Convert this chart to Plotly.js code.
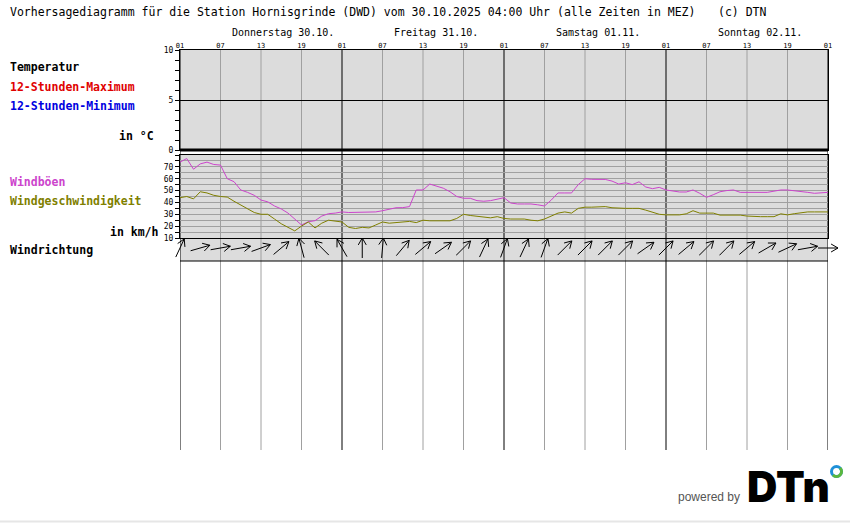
<!DOCTYPE html>
<html><head><meta charset="utf-8">
<script src="https://cdn.plot.ly/plotly-3.0.1.min.js"></script>
<style>html,body{margin:0;padding:0;background:#fff}#chart{width:850px;height:524px}</style>
</head><body><div id="chart"></div>
<script>
// ---------- data ----------
const titleText = 'Vorhersagediagramm für die Station Hornisgrinde (DWD) vom 30.10.2025 04:00 Uhr (alle Zeiten in MEZ)';
const copyrightText = '(c) DTN';
const dayLabels = ['Donnerstag 30.10.', 'Freitag 31.10.', 'Samstag 01.11.', 'Sonntag 02.11.'];
const hourTickLabels = ['01', '07', '13', '19'];
const tempTickVals = [0, 5, 10];
const windTickVals = [10, 20, 30, 40, 50, 60, 70];
// hourly values, starting Thu 30.10. 01:00
const windGust = [
  74, 77, 68, 72.5, 74, 72, 71.5, 60, 57.5, 50.5,
  48.5, 46, 42, 40.5, 37, 34.5, 31, 26, 21, 23.7,
  24.6, 28.5, 30.5, 31, 32, 31.5, 31.5, 31.5, 31.5, 32,
  33, 34.3, 35.5, 35.6, 36.5, 50.5, 50.5, 55.5, 54, 52,
  49, 45, 43.5, 43.5, 41.5, 41, 41.5, 43, 44, 39.5,
  38.7, 38.7, 38.7, 38, 37, 42, 48, 48, 48, 55,
  60, 59.5, 59.4, 59.4, 58, 55.5, 56.6, 55, 57.4, 53,
  51.6, 52.7, 50.5, 49.5, 48.8, 48.8, 50.5, 47.7, 44.3, 46.5,
  49, 50, 50.5, 48.5, 48.5, 48.5, 48.5, 48.5, 49.5, 50.5,
  50.5, 50, 49, 48.5, 47.7, 48, 48.5
];
const windSpeed = [
  44, 45, 43, 49, 48, 46, 45, 44.5, 41, 38,
  35, 31.5, 30, 30, 26, 22, 19, 16, 20, 23.5,
  18.5, 22.5, 25, 24.5, 23.5, 19, 18, 19, 18.5, 21,
  23.5, 22.5, 23, 23, 24, 23, 25, 24.5, 24.5, 24.5,
  24.5, 26.5, 30, 29, 28.5, 28, 27, 28, 26.5, 26,
  26, 26, 25, 24.5, 26, 28.5, 31, 32, 31, 35,
  36, 36, 36.5, 36.5, 35.5, 35, 35, 35, 35, 33.5,
  32, 30, 29.5, 29.3, 29.5, 30.4, 33, 31, 31, 31,
  29.3, 29.3, 29.3, 29.3, 28.5, 28, 28, 28, 28, 30.4,
  29.5, 30.5, 31.4, 32, 32, 32, 32
];
// wind direction (degrees, where the wind comes from), every 3 hours from 30.10. 01:00
const windDirFrom = [
  205, 254, 260, 260, 250, 230, 165, 135, 150, 180, 185,
  220, 230, 235, 225, 205, 200, 205, 200, 225, 225,
  225, 225, 235, 225, 230, 225, 225, 230, 240, 245,
  260, 270
];
const windDirStepHours = 3;

// ---------- geometry ----------
const W = 850, H = 524;
const X0 = 180, X1 = 828;
const HOURS = 96;
const pxPerHour = (X1 - X0) / HOURS;
const pxX = x => x / W;
const pxY = y => (H - y) / H;
const xDomain = [pxX(X0), pxX(X1)];
const MONO = 'DejaVu Sans Mono';

const hours = windGust.map((_, i) => i);
const gridHours = [];
const gridText = [];
for (let h = 0; h <= HOURS; h += 6) { gridHours.push(h); gridText.push(hourTickLabels[(h / 6) % 4]); }

// arrows
const ax = [], ay = [];
const arrowLen = 20, headLen = 8, headAng = 30 * Math.PI / 180, arrowCy = 13;
windDirFrom.forEach((d, k) => {
  const h = k * windDirStepHours;
  const to = (d + 180) * Math.PI / 180;
  const ux = Math.sin(to), uy = Math.cos(to);
  const tipX = h + ux * arrowLen / 2 / pxPerHour, tipY = arrowCy + uy * arrowLen / 2;
  const tailX = h - ux * arrowLen / 2 / pxPerHour, tailY = arrowCy - uy * arrowLen / 2;
  ax.push(tailX, tipX, null); ay.push(tailY, tipY, null);
  const back = to + Math.PI;
  const l = back - headAng, r = back + headAng;
  ax.push(tipX + Math.sin(l) * headLen / pxPerHour, tipX, tipX + Math.sin(r) * headLen / pxPerHour, null);
  ay.push(tipY + Math.cos(l) * headLen, tipY, tipY + Math.cos(r) * headLen, null);
});

const traces = [
  {x: [], y: [], xaxis: 'x', yaxis: 'y', mode: 'lines', hoverinfo: 'skip'},
  {x: hours, y: windGust, xaxis: 'x2', yaxis: 'y2', mode: 'lines', line: {color: '#cc44cc', width: 1}, hoverinfo: 'skip'},
  {x: hours, y: windSpeed, xaxis: 'x2', yaxis: 'y2', mode: 'lines', line: {color: '#808000', width: 1}, hoverinfo: 'skip'},
  {x: ax, y: ay, xaxis: 'x3', yaxis: 'y3', mode: 'lines', line: {color: '#000', width: 1}, hoverinfo: 'skip', connectgaps: false}
];

// ---------- shapes ----------
const shapes = [];
const rectPx = (x0, y0, x1, y1, fill) => ({type: 'rect', xref: 'paper', yref: 'paper', x0: pxX(x0), x1: pxX(x1), y0: pxY(y1), y1: pxY(y0), fillcolor: fill, line: {width: 0}, layer: 'below'});
shapes.push(rectPx(X0, 50, X1, 150, '#dcdcdc'));
shapes.push(rectPx(X0, 155, X1, 238, '#dcdcdc'));
shapes.push(rectPx(X0, 238, X1, 261, '#dcdcdc'));
gridHours.forEach(h => {
  shapes.push({type: 'line', xref: 'x', yref: 'paper', x0: h, x1: h, y0: pxY(450), y1: pxY(50),
    line: {color: h % 24 === 0 ? '#000' : '#a0a0a0', width: 1}, layer: 'below'});
});
// thick zero line of temperature panel
shapes.push({type: 'line', xref: 'paper', yref: 'paper', x0: pxX(X0), x1: pxX(X1), y0: pxY(150), y1: pxY(150), line: {color: '#000', width: 3}});
// bottom border of wind direction panel
shapes.push({type: 'line', xref: 'paper', yref: 'paper', x0: pxX(X0), x1: pxX(X1), y0: pxY(261), y1: pxY(261), line: {color: '#000', width: 1}});
// page bottom faint rule
shapes.push({type: 'line', xref: 'paper', yref: 'paper', x0: 0, x1: 1, y0: pxY(521.5), y1: pxY(521.5), line: {color: '#e6e6e6', width: 2}});
// DTN logo ring
const ringCx = pxX(836.5), ringCy = pxY(471.5), rr = 5;
shapes.push({type: 'circle', xref: 'paper', yref: 'paper', xsizemode: 'pixel', ysizemode: 'pixel', xanchor: ringCx, yanchor: ringCy,
  x0: -rr, x1: rr, y0: -rr, y1: rr, line: {color: '#1e90d8', width: 3}});
function arcPath(r, a0, a1) {
  const toR = a => a * Math.PI / 180;
  let p = '';
  const segs = 2, step = (a1 - a0) / segs;
  for (let i = 0; i < segs; i++) {
    const t0 = toR(a0 + i * step), t1 = toR(a0 + (i + 1) * step);
    const k = 4 / 3 * Math.tan((t1 - t0) / 4);
    const p0 = [r * Math.cos(t0), r * Math.sin(t0)], p3 = [r * Math.cos(t1), r * Math.sin(t1)];
    const p1 = [p0[0] - k * r * Math.sin(t0), p0[1] + k * r * Math.cos(t0)];
    const p2 = [p3[0] + k * r * Math.sin(t1), p3[1] - k * r * Math.cos(t1)];
    if (i === 0) p += `M${p0[0].toFixed(2)},${p0[1].toFixed(2)}`;
    p += ` C${p1[0].toFixed(2)},${p1[1].toFixed(2)} ${p2[0].toFixed(2)},${p2[1].toFixed(2)} ${p3[0].toFixed(2)},${p3[1].toFixed(2)}`;
  }
  return p;
}
shapes.push({type: 'path', xref: 'paper', yref: 'paper', xsizemode: 'pixel', ysizemode: 'pixel', xanchor: ringCx, yanchor: ringCy,
  path: arcPath(rr, 45, -135), line: {color: '#5cb83c', width: 3}});

// ---------- annotations ----------
const ann = [];
const txt = (text, x, y, opts = {}) => ann.push(Object.assign({text, xref: 'paper', yref: 'paper', x: pxX(x), y: pxY(y),
  xanchor: 'left', yanchor: 'middle', showarrow: false, font: {family: MONO, size: 11.5, color: '#000'}}, opts));
txt(titleText, 8, 12);
txt(copyrightText, 716, 12);
dayLabels.forEach((d, i) => ann.push({text: d, xref: 'x', yref: 'paper', x: i * 24 + 7.4, y: pxY(33), xanchor: 'left', yanchor: 'middle',
  showarrow: false, font: {family: MONO, size: 10, color: '#000'}}));
const bold = c => ({family: MONO, size: 11.5, color: c, weight: 'bold'});
txt('Temperatur', 8, 67, {font: bold('#000')});
txt('12-Stunden-Maximum', 8, 87, {font: bold('#e00000')});
txt('12-Stunden-Minimum', 8, 106, {font: bold('#0000e0')});
txt('in °C', 156, 136, {xanchor: 'right', font: bold('#000')});
txt('Windböen', 8, 182, {font: bold('#cc44cc')});
txt('Windgeschwindigkeit', 8, 201, {font: bold('#808000')});
txt('in km/h', 161, 232, {xanchor: 'right', font: bold('#000')});
txt('Windrichtung', 8, 250, {font: bold('#000')});
txt('powered by', 676, 497, {font: {family: 'Liberation Sans', size: 12, color: '#555'}});
txt('DTn', 745, 486, {font: {family: 'Inter', size: 42, color: '#000', weight: 900}});

const axLine = {showline: true, mirror: true, linecolor: '#000', linewidth: 1, zeroline: false, fixedrange: true};
const layout = {
  width: W, height: H, margin: {l: 0, r: 0, t: 0, b: 0},
  paper_bgcolor: '#fff', plot_bgcolor: 'rgba(0,0,0,0)', showlegend: false,
  font: {family: MONO, size: 8, color: '#000'},
  xaxis: Object.assign({domain: xDomain, range: [0, HOURS], anchor: 'y', side: 'top', tickvals: gridHours, ticktext: gridText,
    ticks: '', tickfont: {size: 7}, showgrid: false, ticklabelstandoff: -2}, axLine),
  yaxis: Object.assign({domain: [pxY(150), pxY(50)], range: [0, 10], anchor: 'x', tickvals: tempTickVals, ticks: 'outside', ticklen: 4,
    tickcolor: '#000', showgrid: true, gridcolor: '#000', gridwidth: 1,
    minor: {dtick: 1, ticks: 'outside', ticklen: 4, tickcolor: '#000', showgrid: false}}, axLine),
  xaxis2: Object.assign({domain: xDomain, range: [0, HOURS], anchor: 'y2', showticklabels: false, ticks: '', showgrid: false}, axLine),
  yaxis2: Object.assign({domain: [pxY(238), pxY(155)], range: [10, 80], anchor: 'x2', tickvals: windTickVals, ticks: 'outside', ticklen: 4,
    tickcolor: '#000', showgrid: true, gridcolor: '#a0a0a0', gridwidth: 1,
    minor: {dtick: 5, ticks: 'outside', ticklen: 4, tickcolor: '#000', showgrid: true, gridcolor: '#a0a0a0', gridwidth: 1}}, axLine),
  xaxis3: {domain: [pxX(170), pxX(850)], range: [-10 / pxPerHour, HOURS + 22 / pxPerHour], anchor: 'y3', visible: false, fixedrange: true},
  yaxis3: {domain: [pxY(261), pxY(238)], range: [0, 23], anchor: 'x3', visible: false, fixedrange: true},
  shapes, annotations: ann
};
Plotly.newPlot('chart', traces, layout, {staticPlot: true, displayModeBar: false});
</script>
</body></html>
